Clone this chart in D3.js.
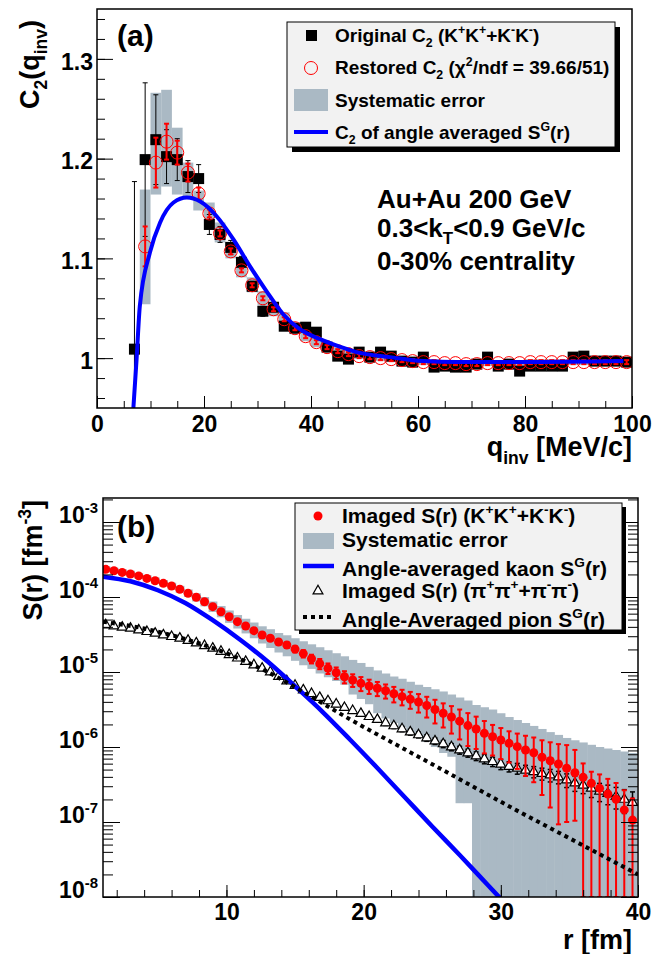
<!DOCTYPE html>
<html>
<head>
<meta charset="utf-8">
<script src="https://cdn.jsdelivr.net/npm/d3@7"></script>
<style>
  body { margin: 0; background: #fff; }
  svg text { font-family: "Liberation Sans", Arial, Helvetica, sans-serif; font-weight: bold; fill: #000; }
</style>
</head>
<body>
<svg id="chart" width="665" height="954"></svg>
<script>
// ---------- panel (a): C2(q_inv) ----------
const qOrig = [7,9,11,13,15,17,19,21,23,25,27,29,31,33,35,37,39,41,43,45,47,49,51,53,55,57,59,61,63,65,67,69,71,73,75,77,79,81,83,85,87,89,91,93,95,97,99];
const c2Orig = [1.009,1.199,1.219,1.202,1.199,1.182,1.180,1.134,1.124,1.111,1.096,1.072,1.047,1.051,1.032,1.030,1.031,1.026,1.011,1.002,
  0.999,1.006,1.001,1.006,1.002,0.997,0.996,1.001,0.991,0.992,0.991,0.991,0.994,1.001,0.992,0.994,0.987,0.992,0.992,0.992,
  0.992,1.001,1.002,0.997,0.997,0.997,0.996];
const errOrig = [0.168,0.077,0.045,0.027,0.021,0.016,0.014,0.010,0.008,0.007,0.006,0.005,0.005,0.004,0.004,0.004,0.004,0.003,0.003,0.003,
  0.003,0.003,0.003,0.003,0.003,0.003,0.003,0.003,0.003,0.003,0.003,0.003,0.003,0.003,0.003,0.003,0.003,0.003,0.003,0.003,
  0.003,0.003,0.003,0.003,0.003,0.003,0.003];

const qRest = [9,11,13,15,17,19,21,23,25,27,29,31,33,35,37,39,41,43,45,47,49,51,53,55,57,59,61,63,65,67,69,71,73,75,77,79,81,83,85,87,89,91,93,95,97,99];
const c2Rest = [1.112,1.196,1.217,1.206,1.186,1.165,1.145,1.125,1.107,1.088,1.073,1.060,1.049,1.039,1.030,1.022,1.016,1.011,1.007,
  1.004,1.002,1.001,1.000,0.999,0.998,0.997,0.996,0.996,0.995,0.995,0.994,0.994,0.995,0.995,0.995,0.995,0.996,0.996,0.996,0.996,
  0.996,0.996,0.996,0.996,0.996,0.996];
const errRest = [0.020,0.025,0.018,0.012,0.009,0.006,0.004,0.003,0.003,0.002,0.002,0.002,0.002,0.002,0.002,0.002,0.002,0.002,0.002,
  0.002,0.002,0.002,0.002,0.002,0.002,0.002,0.002,0.002,0.002,0.002,0.002,0.002,0.002,0.002,0.002,0.002,0.002,0.002,0.002,0.002,
  0.002,0.002,0.002,0.002,0.002,0.002];
const sysLoA = [1.054,1.164,1.172,1.164,1.160,1.148,1.137,1.116,1.100,1.081,1.066,1.053,1.042,1.032,1.024,1.017,1.011,1.007,1.004,
  1.001,0.999,0.998,0.997,0.996,0.995,0.994,0.993,0.993,0.992,0.992,0.991,0.991,0.992,0.992,0.992,0.992,0.993,0.993,0.993,0.993,
  0.993,0.993,0.993,0.993,0.993,0.993];
const sysHiA = [1.169,1.266,1.269,1.231,1.196,1.168,1.156,1.136,1.116,1.097,1.081,1.067,1.056,1.046,1.036,1.028,1.021,1.015,1.011,
  1.008,1.005,1.004,1.003,1.002,1.001,1.000,0.999,0.999,0.998,0.998,0.997,0.997,0.998,0.998,0.998,0.998,0.999,0.999,0.999,0.999,
  0.999,0.999,0.999,0.999,0.999,0.999];

const qFit = [6.8,7.4,8.0,9.9,11.8,14.3,16.8,19.3,22.4,25.5,28.6,31.7,34.8,37.9,41.7,45.1,48.5,54.8,61,67.2,79.7,98.4];
const c2Fit = [0.950,0.999,1.052,1.106,1.136,1.156,1.161,1.157,1.142,1.119,1.092,1.067,1.044,1.029,1.019,1.012,1.006,1.001,0.997,0.996,0.996,0.997];

const aXMajor = [0,20,40,60,80,100];
const aYMajor = [1.0,1.1,1.2,1.3];
const aYLabels = ["1","1.1","1.2","1.3"];

// ---------- panel (b): S(r) ----------
const rB = [1.2,1.8,2.4,3.0,3.6,4.2,4.8,5.4,6.0,6.6,7.2,7.8,8.4,9.0,9.6,10.2,10.8,11.4,12.0,12.6,13.2,13.8,14.4,15.0,15.6,16.2,16.8,
  17.4,18.0,18.6,19.2,19.8,20.4,21.0,21.6,22.2,22.8,23.4,24.0,24.6,25.2,25.8,26.4,27.0,27.6,28.2,28.8,29.4,30.0,30.6,31.2,31.8,
  32.4,33.0,33.6,34.2,34.8,35.4,36.0,36.6,37.2,37.8,38.4,39.0,39.6];
const kaonS = [2.34e-4,2.24e-4,2.13e-4,2.03e-4,1.91e-4,1.77e-4,1.65e-4,1.52e-4,1.40e-4,1.27e-4,
  1.12e-4,9.91e-5,8.65e-5,7.43e-5,6.37e-5,5.46e-5,4.69e-5,4.10e-5,3.56e-5,3.11e-5,
  2.82e-5,2.51e-5,2.29e-5,2.02e-5,1.76e-5,1.50e-5,1.29e-5,1.12e-5,9.79e-6,8.65e-6,
  7.82e-6,7.06e-6,6.50e-6,6.07e-6,5.62e-6,5.13e-6,4.69e-6,4.33e-6,3.98e-6,3.57e-6,
  3.16e-6,2.82e-6,2.51e-6,2.21e-6,1.93e-6,1.74e-6,1.52e-6,1.37e-6,1.24e-6,1.12e-6,
  1.01e-6,9.12e-7,8.39e-7,7.29e-7,6.56e-7,5.93e-7,5.20e-7,4.54e-7,3.94e-7,3.28e-7,
  2.81e-7,2.36e-7,2.01e-7,1.45e-7,1.06e-7];
const kaonErrUp = [3e-6,3e-6,3e-6,3e-6,3e-6,3e-6,3e-6,3e-6,3e-6,3e-6,
  2.5e-6,2.5e-6,2.5e-6,2.5e-6,2.5e-6,2.5e-6,2.5e-6,2.5e-6,2.5e-6,2.5e-6,
  2e-6,2e-6,2e-6,2e-6,2e-6,2e-6,2e-6,1.8e-6,1.7e-6,1.6e-6,
  1.5e-6,1.5e-6,1.4e-6,1.3e-6,1.2e-6,1.2e-6,1.1e-6,1.1e-6,1.1e-6,1.1e-6,
  1.1e-6,1.0e-6,1.0e-6,9.5e-7,9e-7,8e-7,7e-7,6e-7,5.5e-7,5e-7,
  5e-7,5e-7,5e-7,5e-7,5e-7,5e-7,5.4e-7,4.6e-7,2.1e-7,1.4e-7,
  1.5e-7,1.4e-7,1.3e-7,1.2e-7,1.0e-7];
const kaonErrDn = [3e-6,3e-6,3e-6,3e-6,3e-6,3e-6,3e-6,3e-6,3e-6,3e-6,
  2.5e-6,2.5e-6,2.5e-6,2.5e-6,2.5e-6,2.5e-6,2.5e-6,2.5e-6,2.5e-6,2.5e-6,
  2e-6,2e-6,2e-6,2e-6,2e-6,2e-6,2e-6,1.8e-6,1.7e-6,1.6e-6,
  1.5e-6,1.5e-6,1.4e-6,1.3e-6,1.2e-6,1.2e-6,1.1e-6,1.1e-6,1.1e-6,1.1e-6,
  1.1e-6,1.0e-6,1.0e-6,9.5e-7,9e-7,8e-7,7e-7,6e-7,5.5e-7,5e-7,
  5e-7,5e-7,5e-7,5e-7,5e-7,5e-7,4.2e-7,3.5e-7,4e-7,3.3e-7,
  2.9e-7,2.4e-7,2.1e-7,1.5e-7,1.1e-7];
const kaonSysHi = [2.57e-4,2.45e-4,2.34e-4,2.24e-4,2.09e-4,1.95e-4,1.82e-4,1.68e-4,1.55e-4,1.41e-4,
  1.26e-4,1.12e-4,1.00e-4,8.71e-5,7.59e-5,6.61e-5,5.75e-5,5.13e-5,4.57e-5,4.07e-5,
  3.72e-5,3.31e-5,3.09e-5,2.82e-5,2.57e-5,2.34e-5,2.14e-5,1.95e-5,1.78e-5,1.62e-5,
  1.45e-5,1.32e-5,1.17e-5,1.05e-5,9.55e-6,8.71e-6,8.13e-6,7.41e-6,6.76e-6,6.31e-6,
  5.89e-6,5.50e-6,5.01e-6,4.57e-6,4.17e-6,3.63e-6,3.39e-6,3.16e-6,2.82e-6,2.51e-6,
  2.29e-6,2.09e-6,1.91e-6,1.74e-6,1.58e-6,1.45e-6,1.32e-6,1.23e-6,1.15e-6,1.07e-6,
  1.00e-6,9.55e-7,9.12e-7,8.71e-7,8.32e-7];
const kaonSysLo = [2.14e-4,2.04e-4,1.95e-4,1.84e-4,1.74e-4,1.62e-4,1.50e-4,1.38e-4,1.26e-4,1.14e-4,
  1.00e-4,8.71e-5,7.50e-5,6.31e-5,5.37e-5,4.52e-5,3.80e-5,3.27e-5,2.82e-5,2.40e-5,
  2.09e-5,1.82e-5,1.62e-5,1.41e-5,1.23e-5,1.10e-5,9.55e-6,8.51e-6,7.59e-6,6.76e-6,
  5.01e-6,4.37e-6,3.72e-6,2.82e-6,2.40e-6,2.09e-6,1.82e-6,1.58e-6,1.38e-6,1.17e-6,
  1.00e-6,8.32e-7,7.41e-7,1.78e-7,1.78e-7,0,0,0,0,0,
  0,0,0,0,0,0,0,0,0,0,
  0,0,0,0,0];
const pionS = [4.24e-5,4.10e-5,3.94e-5,3.82e-5,3.63e-5,3.45e-5,3.28e-5,3.11e-5,2.96e-5,2.81e-5,
  2.63e-5,2.43e-5,2.24e-5,2.07e-5,1.88e-5,1.70e-5,1.53e-5,1.38e-5,1.24e-5,1.12e-5,
  1.00e-5,8.71e-6,7.59e-6,6.61e-6,5.75e-6,5.13e-6,4.57e-6,4.12e-6,3.72e-6,3.35e-6,
  3.05e-6,2.79e-6,2.54e-6,2.32e-6,2.09e-6,1.91e-6,1.74e-6,1.58e-6,1.45e-6,1.32e-6,
  1.20e-6,1.10e-6,1.00e-6,9.12e-7,8.32e-7,7.59e-7,6.92e-7,6.38e-7,5.89e-7,5.50e-7,
  5.19e-7,4.90e-7,4.68e-7,4.42e-7,4.22e-7,3.98e-7,3.63e-7,3.31e-7,3.09e-7,2.82e-7,
  2.57e-7,2.40e-7,2.19e-7,2.00e-7,1.82e-7];
const pionErr = [5e-7,5e-7,5e-7,5e-7,5e-7,5e-7,5e-7,5e-7,5e-7,5e-7,
  4e-7,4e-7,4e-7,4e-7,4e-7,4e-7,4e-7,4e-7,4e-7,4e-7,
  2.5e-7,2.5e-7,2.5e-7,2.5e-7,2.5e-7,2.5e-7,2.5e-7,2.5e-7,2.5e-7,2.5e-7,
  1.5e-7,1.5e-7,1.5e-7,1.5e-7,1.5e-7,1.5e-7,1.4e-7,1.4e-7,1.3e-7,1.3e-7,
  1.2e-7,1.2e-7,1.1e-7,1.1e-7,1.0e-7,1.0e-7,9.5e-8,9e-8,9e-8,8.5e-8,
  8.5e-8,8e-8,8e-8,8e-8,8e-8,7.5e-8,7.5e-8,7.5e-8,7e-8,7e-8,
  7e-8,7e-8,7e-8,7e-8,7e-8];

const kaonFitR = [1,3,5,7,9,11,13,15,17,19,21,23,25,27,29,31];
const kaonFitS = [1.87e-4,1.62e-4,1.23e-4,8.32e-5,4.90e-5,2.69e-5,1.38e-5,6.46e-6,2.95e-6,1.26e-6,5.25e-7,2.14e-7,8.71e-8,3.63e-8,1.48e-8,6.03e-9];
const pionFitR = [1,4,7,10,13,16,19,22,25,28,31,34,37,40];
const pionFitS = [4.68e-5,3.80e-5,2.75e-5,1.78e-5,1.00e-5,4.90e-6,2.34e-6,1.17e-6,5.89e-7,2.95e-7,1.48e-7,7.59e-8,3.89e-8,2.00e-8];

const bXMajor = [10,20,30,40];
const bYDecades = [1e-8,1e-7,1e-6,1e-5,1e-4,1e-3];
const bYExp = ["-8","-7","-6","-5","-4","-3"];

// ---------- setup ----------
const GREY = "#aab9c4";
const RED = "#ff0000";
const BLUE = "#0000ff";
const svg = d3.select("#chart");

// text with sub/superscript pieces: "txt" or ["txt","sub"|"sup"]
function rich(sel, parts, size) {
  let cur = 0;
  parts.forEach(p => {
    const s = typeof p === "string" ? [p, ""] : p;
    const off = s[1] === "sub" ? size * 0.28 : s[1] === "sup" ? -size * 0.42 : 0;
    sel.append("tspan").attr("dy", off - cur).attr("font-size", s[1] ? size * 0.65 : size).text(s[0]);
    cur = off;
  });
  return sel;
}
function label(x, y, parts, size, anchor, rotate) {
  const t = svg.append("text").attr("font-size", size).attr("text-anchor", anchor || "start");
  if (rotate) t.attr("transform", `translate(${x},${y}) rotate(-90)`);
  else t.attr("x", x).attr("y", y);
  return rich(t, parts, size);
}
function styleAxis(g, size) {
  g.select(".domain").remove();
  g.selectAll("line").attr("stroke", "#000").attr("stroke-width", 1);
  g.attr("font-family", null).attr("font-size", null);
  g.selectAll("text").attr("font-size", size || 23);
}
function errBars(g, data, x, y, color, width, cap) {
  g.selectAll(null).data(data).join("line")
    .attr("x1", d => x(d.x)).attr("x2", d => x(d.x))
    .attr("y1", d => y(d.hi)).attr("y2", d => y(d.lo))
    .attr("stroke", color).attr("stroke-width", width);
  [d => d.hi, d => d.lo].forEach(f => {
    g.selectAll(null).data(data).join("line")
      .attr("x1", d => x(d.x) - cap).attr("x2", d => x(d.x) + cap)
      .attr("y1", d => y(f(d))).attr("y2", d => y(f(d)))
      .attr("stroke", color).attr("stroke-width", width);
  });
}

const defs = svg.append("defs");

// ================= PANEL (a) =================
const xA = d3.scaleLinear().domain([0, 100]).range([97, 632]);
const yA = d3.scaleLinear().domain([0.95, 1.35]).range([408, 9]);
defs.append("clipPath").attr("id", "clipA").append("rect")
  .attr("x", 97).attr("y", 9).attr("width", 535).attr("height", 399);

const dA = svg.append("g").attr("clip-path", "url(#clipA)");

dA.selectAll("rect.sys").data(qRest).join("rect").attr("class", "sys")
  .attr("x", q => xA(q - 1)).attr("width", q => xA(q + 1) - xA(q - 1))
  .attr("y", (q, i) => yA(sysHiA[i])).attr("height", (q, i) => yA(sysLoA[i]) - yA(sysHiA[i]))
  .attr("fill", GREY);

const origPts = qOrig.map((q, i) => ({ x: q, v: c2Orig[i], hi: c2Orig[i] + errOrig[i], lo: c2Orig[i] - errOrig[i] }));
errBars(dA.append("g"), origPts, xA, yA, "#000", 1, 2.5);
dA.selectAll("rect.orig").data(origPts).join("rect").attr("class", "orig")
  .attr("x", d => xA(d.x) - 5.5).attr("y", d => yA(d.v) - 5.5)
  .attr("width", 11).attr("height", 11).attr("fill", "#000");

const restPts = qRest.map((q, i) => ({ x: q, v: c2Rest[i], hi: c2Rest[i] + errRest[i], lo: c2Rest[i] - errRest[i] }));
errBars(dA.append("g"), restPts, xA, yA, RED, 2, 2.5);
dA.selectAll("circle.rest").data(restPts).join("circle").attr("class", "rest")
  .attr("cx", d => xA(d.x)).attr("cy", d => yA(d.v)).attr("r", 6.5)
  .attr("fill", "none").attr("stroke", RED).attr("stroke-width", 1);

dA.append("path").datum(qFit.map((q, i) => [q, c2Fit[i]]))
  .attr("d", d3.line().x(d => xA(d[0])).y(d => yA(d[1])).curve(d3.curveMonotoneX))
  .attr("fill", "none").attr("stroke", BLUE).attr("stroke-width", 4);

// axes (a)
svg.append("g").attr("transform", "translate(97,0)")
  .call(d3.axisLeft(yA).tickValues(d3.range(0.96, 1.35, 0.02)).tickSize(-8).tickFormat(""))
  .call(g => styleAxis(g));
svg.append("g").attr("transform", "translate(97,0)")
  .call(d3.axisLeft(yA).tickValues(aYMajor).tickSize(-16).tickPadding(4).tickFormat((d, i) => aYLabels[i]))
  .call(g => styleAxis(g, 23))
  .selectAll("text").attr("dy", "0.45em");
svg.append("g").attr("transform", "translate(0,408)")
  .call(d3.axisBottom(xA).tickValues(d3.range(0, 101, 5)).tickSize(-7).tickFormat(""))
  .call(g => styleAxis(g));
svg.append("g").attr("transform", "translate(0,408)")
  .call(d3.axisBottom(xA).tickValues(aXMajor).tickSize(-12).tickPadding(8).tickFormat(d3.format("d")))
  .call(g => styleAxis(g, 23));
svg.append("rect").attr("x", 97).attr("y", 9).attr("width", 535).attr("height", 399)
  .attr("fill", "none").attr("stroke", "#000").attr("stroke-width", 1.5);

label(117, 46, ["(a)"], 30);
label(39, 20, ["C", ["2", "sub"], "(q", ["inv", "sub"], ")"], 27, "end", true);
label(632, 456, ["q", ["inv", "sub"], " [MeV/c]"], 27, "end");

label(377, 208, ["Au+Au 200 GeV"], 26);
label(377, 237, ["0.3<k", ["T", "sub"], "<0.9 GeV/c"], 26);
label(377, 270, ["0-30% centrality"], 26);

// legend (a)
svg.append("rect").attr("x", 292).attr("y", 27).attr("width", 328).attr("height", 125).attr("fill", "#000");
svg.append("rect").attr("x", 287).attr("y", 22).attr("width", 328).attr("height", 125)
  .attr("fill", "#f2f2f2").attr("stroke", "#000").attr("stroke-width", 1);
svg.append("rect").attr("x", 306).attr("y", 30).attr("width", 11).attr("height", 11).attr("fill", "#000");
svg.append("circle").attr("cx", 311).attr("cy", 68).attr("r", 6.5).attr("fill", "none").attr("stroke", RED);
svg.append("rect").attr("x", 294).attr("y", 89).attr("width", 34).attr("height", 22).attr("fill", GREY);
svg.append("line").attr("x1", 294).attr("x2", 328).attr("y1", 132).attr("y2", 132).attr("stroke", BLUE).attr("stroke-width", 4);
label(335, 42, ["Original C", ["2", "sub"], " (K", ["+", "sup"], "K", ["+", "sup"], "+K", ["-", "sup"], "K", ["-", "sup"], ")"], 19);
label(335, 74, ["Restored C", ["2", "sub"], " (χ", ["2", "sup"], "/ndf = 39.66/51)"], 19);
label(335, 107, ["Systematic error"], 19);
label(335, 139, ["C", ["2", "sub"], " of angle averaged S", ["G", "sup"], "(r)"], 19);

// ================= PANEL (b) =================
const xB = d3.scaleLinear().domain([1, 40]).range([103, 638]);
const yB = d3.scaleLog().domain([1e-8, 2.09e-3]).range([897, 498]);
const yBot = yB.range()[0];
const yBc = v => (v > yB.domain()[0] ? yB(v) : yBot);
defs.append("clipPath").attr("id", "clipB").append("rect")
  .attr("x", 103).attr("y", 498).attr("width", 535).attr("height", 399);

const dB = svg.append("g").attr("clip-path", "url(#clipB)");

dB.selectAll("rect.sys").data(rB).join("rect").attr("class", "sys")
  .attr("x", r => xB(r - 0.3)).attr("width", r => xB(r + 0.3) - xB(r - 0.3) + 0.5)
  .attr("y", (r, i) => yB(kaonSysHi[i])).attr("height", (r, i) => yBc(kaonSysLo[i]) - yB(kaonSysHi[i]))
  .attr("fill", GREY);

const pionPts = rB.map((r, i) => ({ x: r, v: pionS[i], hi: pionS[i] + pionErr[i], lo: pionS[i] - pionErr[i] }));
errBars(dB.append("g"), pionPts, xB, yBc, "#000", 1.5, 2.5);
dB.selectAll("path.pion").data(pionPts).join("path").attr("class", "pion")
  .attr("transform", d => `translate(${xB(d.x)},${yB(d.v)})`)
  .attr("d", d3.symbol().type(d3.symbolTriangle).size(42))
  .attr("fill", "#fff").attr("stroke", "#000").attr("stroke-width", 1.2);

const kaonPts = rB.map((r, i) => ({ x: r, v: kaonS[i], hi: kaonS[i] + kaonErrUp[i], lo: kaonS[i] - kaonErrDn[i] }));
errBars(dB.append("g"), kaonPts, xB, yBc, RED, 2, 2.5);
dB.selectAll("circle.kaon").data(kaonPts).join("circle").attr("class", "kaon")
  .attr("cx", d => xB(d.x)).attr("cy", d => yB(d.v)).attr("r", 4.5).attr("fill", RED);

dB.append("path").datum(kaonFitR.map((r, i) => [r, kaonFitS[i]]))
  .attr("d", d3.line().x(d => xB(d[0])).y(d => yB(d[1])).curve(d3.curveMonotoneX))
  .attr("fill", "none").attr("stroke", BLUE).attr("stroke-width", 4.5);
dB.append("path").datum(pionFitR.map((r, i) => [r, pionFitS[i]]))
  .attr("d", d3.line().x(d => xB(d[0])).y(d => yB(d[1])).curve(d3.curveMonotoneX))
  .attr("fill", "none").attr("stroke", "#000").attr("stroke-width", 4).attr("stroke-dasharray", "4,4");

// axes (b)
const bYMinor = [];
bYDecades.forEach(d => [2, 3, 4, 5, 6, 7, 8, 9].forEach(k => { if (d * k < yB.domain()[1]) bYMinor.push(d * k); }));
[[103, d3.axisLeft], [638, d3.axisRight]].forEach(([x, ax]) => {
  svg.append("g").attr("transform", `translate(${x},0)`)
    .call(ax(yB).tickValues(bYMinor).tickSize(-10).tickFormat(""))
    .call(g => styleAxis(g));
  svg.append("g").attr("transform", `translate(${x},0)`)
    .call(ax(yB).tickValues(bYDecades).tickSize(-17).tickFormat(""))
    .call(g => styleAxis(g));
});
svg.append("g").attr("transform", "translate(103,0)")
  .call(d3.axisLeft(yB).tickValues(bYDecades).tickSize(0).tickPadding(5).tickFormat(""))
  .call(g => styleAxis(g, 23))
  .call(g => g.selectAll("line").remove())
  .selectAll("text").attr("dy", "0.45em")
  .each(function (d, i) { rich(d3.select(this), ["10", [bYExp[i], "sup"]], 23); });
svg.append("g").attr("transform", "translate(0,897)")
  .call(d3.axisBottom(xB).tickValues(d3.range(2, 41, 2)).tickSize(-7).tickFormat(""))
  .call(g => styleAxis(g));
svg.append("g").attr("transform", "translate(0,897)")
  .call(d3.axisBottom(xB).tickValues(bXMajor).tickSize(-12).tickPadding(7).tickFormat(d3.format("d")))
  .call(g => styleAxis(g, 23));
svg.append("rect").attr("x", 103).attr("y", 498).attr("width", 535).attr("height", 399)
  .attr("fill", "none").attr("stroke", "#000").attr("stroke-width", 1.5);

label(117, 537, ["(b)"], 30);
label(42, 500, ["S(r) [fm", ["-3", "sup"], "]"], 27, "end", true);
label(632, 949, ["r [fm]"], 27, "end");

// legend (b)
svg.append("rect").attr("x", 299).attr("y", 507).attr("width", 327).attr("height", 127).attr("fill", "#000");
svg.append("rect").attr("x", 295).attr("y", 503).attr("width", 327).attr("height", 127)
  .attr("fill", "#f2f2f2").attr("stroke", "#000").attr("stroke-width", 1);
svg.append("circle").attr("cx", 318).attr("cy", 516).attr("r", 4.5).attr("fill", RED);
svg.append("rect").attr("x", 303).attr("y", 533).attr("width", 31).attr("height", 16).attr("fill", GREY);
svg.append("line").attr("x1", 303).attr("x2", 334).attr("y1", 566).attr("y2", 566).attr("stroke", BLUE).attr("stroke-width", 4.5);
svg.append("path").attr("transform", "translate(318,591)").attr("d", d3.symbol().type(d3.symbolTriangle).size(42))
  .attr("fill", "#fff").attr("stroke", "#000").attr("stroke-width", 1.2);
svg.append("line").attr("x1", 303).attr("x2", 333).attr("y1", 617).attr("y2", 617)
  .attr("stroke", "#000").attr("stroke-width", 4).attr("stroke-dasharray", "4,4");
label(342, 523, ["Imaged S(r) (K", ["+", "sup"], "K", ["+", "sup"], "+K", ["-", "sup"], "K", ["-", "sup"], ")"], 21);
label(342, 547, ["Systematic error"], 21);
label(342, 576, ["Angle-averaged kaon S", ["G", "sup"], "(r)"], 21);
label(342, 598, ["Imaged S(r) (π", ["+", "sup"], "π", ["+", "sup"], "+π", ["-", "sup"], "π", ["-", "sup"], ")"], 21);
label(342, 627, ["Angle-Averaged pion S", ["G", "sup"], "(r)"], 21);
</script>
</body>
</html>
